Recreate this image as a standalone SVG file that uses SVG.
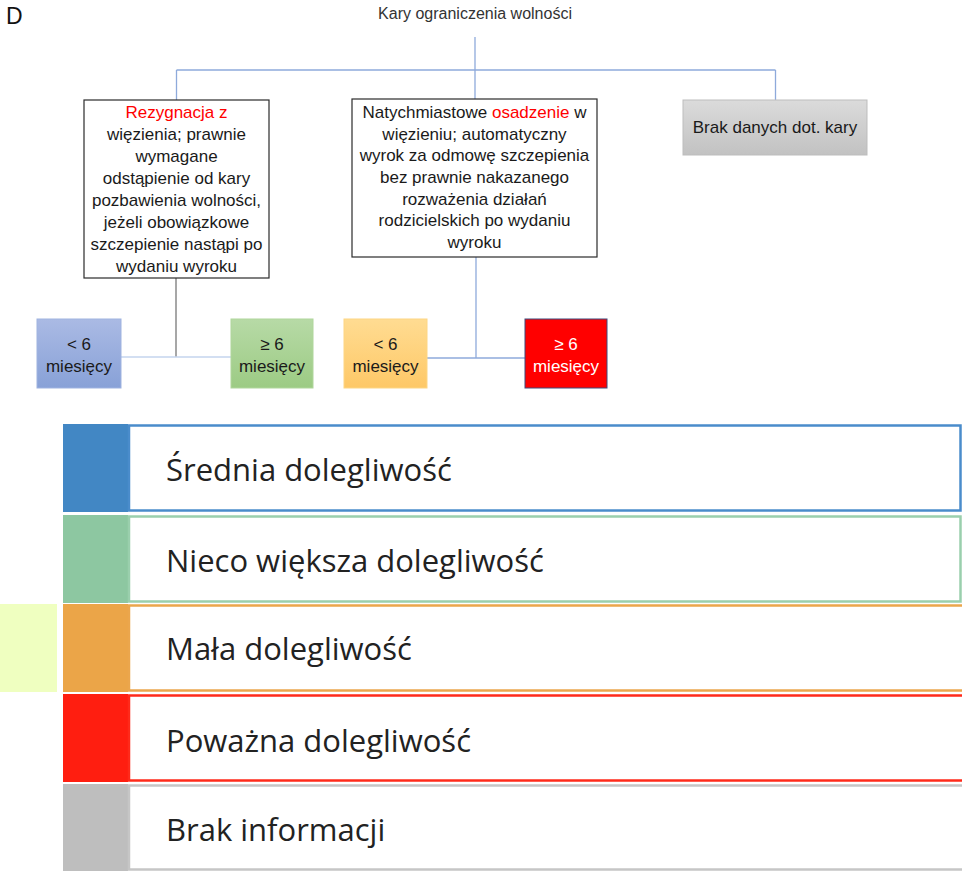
<svg xmlns="http://www.w3.org/2000/svg" width="962" height="871" viewBox="0 0 962 871">
<defs>
<linearGradient id="gBlue" x1="0" y1="0" x2="0" y2="1"><stop offset="0" stop-color="#aabae4"/><stop offset="1" stop-color="#88a1d7"/></linearGradient>
<linearGradient id="gGreen" x1="0" y1="0" x2="0" y2="1"><stop offset="0" stop-color="#b7daa6"/><stop offset="1" stop-color="#9ccb84"/></linearGradient>
<linearGradient id="gOrange" x1="0" y1="0" x2="0" y2="1"><stop offset="0" stop-color="#ffdc92"/><stop offset="1" stop-color="#fec867"/></linearGradient>
<linearGradient id="gGrey" x1="0" y1="0" x2="0" y2="1"><stop offset="0" stop-color="#dbdbdb"/><stop offset="1" stop-color="#c2c2c2"/></linearGradient>
<style>
.t{font-family:"Liberation Sans",Arial,sans-serif;font-size:17px;fill:#1a1a1a;text-anchor:middle}
.red{fill:#ff0000}
.box{fill:#ffffff;stroke:#2b2b2b;stroke-width:1.2}
.lk{fill:none;stroke:#8eaadb;stroke-width:1.3}
.lg{font-family:"Open Sans","Liberation Sans",sans-serif;font-size:31px;fill:#222222}
</style>
</defs>
<text x="6" y="24" style="font-family:'Liberation Sans',Arial,sans-serif;font-size:23px;fill:#111">D</text>
<text x="475" y="19" class="t" style="font-size:16px;fill:#333">Kary ograniczenia wolności</text>

<g id="connectors">
<path class="lk" d="M475 37 V99"/>
<path class="lk" d="M176.5 70 H775.5"/>
<path class="lk" d="M176.5 70 V100"/>
<path class="lk" d="M775.5 70 V100"/>
<path d="M176 278 V357" fill="none" stroke="#8a8a8a" stroke-width="1.5"/>
<path d="M121 357 H231" fill="none" stroke="#c5d4ee" stroke-width="1.5"/>
<path class="lk" d="M476 257 V358"/>
<path class="lk" d="M427 358 H525"/>
</g>

<g id="node-left">
<rect class="box" x="84" y="100" width="185" height="178"/>
<text class="t red" x="176.5" y="118">Rezygnacja z</text>
<text class="t" x="176.5" y="140">więzienia; prawnie</text>
<text class="t" x="176.5" y="162">wymagane</text>
<text class="t" x="176.5" y="184">odstąpienie od kary</text>
<text class="t" x="176.5" y="206">pozbawienia wolności,</text>
<text class="t" x="176.5" y="228">jeżeli obowiązkowe</text>
<text class="t" x="176.5" y="250">szczepienie nastąpi po</text>
<text class="t" x="176.5" y="272">wydaniu wyroku</text>
</g>

<g id="node-middle">
<rect class="box" x="352" y="99" width="245" height="158"/>
<text class="t" x="474.5" y="118">Natychmiastowe <tspan class="red">osadzenie</tspan> w</text>
<text class="t" x="474.5" y="139.7">więzieniu; automatyczny</text>
<text class="t" x="474.5" y="161.3">wyrok za odmowę szczepienia</text>
<text class="t" x="474.5" y="183">bez prawnie nakazanego</text>
<text class="t" x="474.5" y="204.7">rozważenia działań</text>
<text class="t" x="474.5" y="226.3">rodzicielskich po wydaniu</text>
<text class="t" x="474.5" y="248">wyroku</text>
</g>

<g id="node-nodata">
<rect x="683" y="100" width="184" height="55" fill="url(#gGrey)" stroke="#bdbdbd" stroke-width="1"/>
<text class="t" x="775" y="133">Brak danych dot. kary</text>
</g>

<g id="node-left-lt6">
<rect x="37" y="319" width="84" height="69" fill="url(#gBlue)" stroke="#9fb3e0" stroke-width="1"/>
<text class="t" x="79" y="350">&lt; 6</text>
<text class="t" x="79" y="372">miesięcy</text>
</g>
<g id="node-left-ge6">
<rect x="231" y="319" width="82" height="69" fill="url(#gGreen)" stroke="#b0d69c" stroke-width="1"/>
<text class="t" x="272" y="350">≥ 6</text>
<text class="t" x="272" y="372">miesięcy</text>
</g>
<g id="node-mid-lt6">
<rect x="344" y="319" width="83" height="69" fill="url(#gOrange)" stroke="#fdd684" stroke-width="1"/>
<text class="t" x="385.5" y="350">&lt; 6</text>
<text class="t" x="385.5" y="372">miesięcy</text>
</g>
<g id="node-mid-ge6">
<rect x="525" y="319" width="82" height="69" fill="#ff0000" stroke="#3d4a7c" stroke-width="1"/>
<text class="t" x="566" y="350" style="fill:#ffffff">≥ 6</text>
<text class="t" x="566" y="372" style="fill:#ffffff">miesięcy</text>
</g>

<g id="legend">
<rect x="0" y="604" width="57" height="88" fill="#efffc0"/>

<rect x="63" y="424" width="65" height="88" fill="#4287c4"/>
<rect x="129" y="425.5" width="831.5" height="85" fill="#ffffff" stroke="#4a8ccb" stroke-width="2.5"/>
<text class="lg" x="166" y="481">Średnia dolegliwość</text>

<rect x="63" y="515" width="65" height="88" fill="#8dc7a1"/>
<rect x="129" y="516.5" width="831.5" height="85" fill="#ffffff" stroke="#9acfad" stroke-width="2.5"/>
<text class="lg" x="166" y="572">Nieco większa dolegliwość</text>

<rect x="63" y="604" width="65" height="88" fill="#eba548"/>
<rect x="129" y="605.5" width="840" height="85" fill="#ffffff" stroke="#eba64c" stroke-width="2.5"/>
<text class="lg" x="166" y="660">Mała dolegliwość</text>

<rect x="63" y="694" width="65" height="88" fill="#ff1e10"/>
<rect x="129" y="695.5" width="840" height="85" fill="#ffffff" stroke="#ff2a1a" stroke-width="2.5"/>
<text class="lg" x="166" y="752">Poważna dolegliwość</text>

<rect x="63" y="784" width="65" height="87" fill="#bebebe"/>
<rect x="129" y="785.5" width="840" height="84" fill="#ffffff" stroke="#c6c6c6" stroke-width="2.5"/>
<text class="lg" x="166" y="841">Brak informacji</text>
</g>
</svg>
